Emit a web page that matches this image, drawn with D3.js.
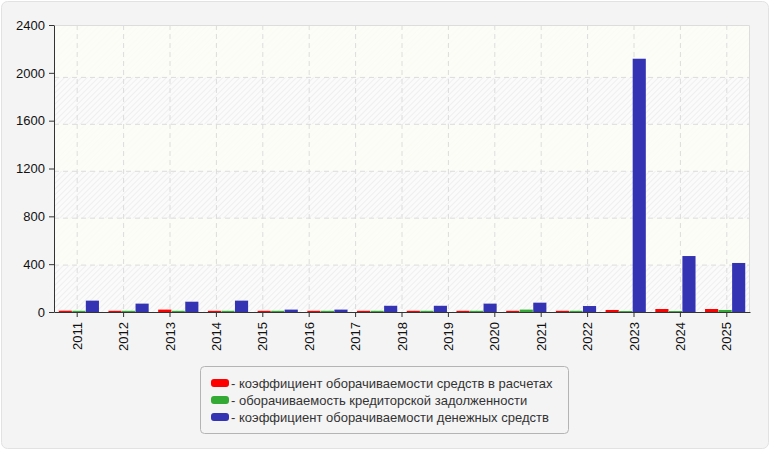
<!DOCTYPE html>
<html>
<head>
<meta charset="utf-8">
<script src="https://cdn.jsdelivr.net/npm/d3@7"></script>
<style>
  body { margin: 0; background: #fff; }
  text { font-family: "Liberation Sans", Arial, sans-serif; }
</style>
</head>
<body>
<script>
const w = 770, h = 450;

// tick labels on the x axis
const years = ['2011','2012','2013','2014','2015','2016','2017','2018','2019','2020','2021','2022','2023','2024','2025'];

// series values (14 bar groups as drawn)
const receivables = [11, 10, 20, 10, 10, 10, 10, 10, 10, 10, 10, 17, 25, 25];
const payables    = [10, 10, 10, 10, 10, 10, 10, 10, 10, 20, 10,  8,  8, 17];
const cash        = [95, 70, 86, 95, 20, 20, 52, 52, 70, 78, 50, 2118, 468, 410];

const seriesNames = [
  '- коэффициент оборачиваемости средств в расчетах',
  '- оборачиваемость кредиторской задолженности',
  '- коэффициент оборачиваемости денежных средств'
];
const colors = ['#ff0000', '#33aa33', '#3333b3'];
const yTicks = [0, 400, 800, 1200, 1600, 2000, 2400];

const mLeft = 54, mRight = 750, mTop = 25, mBottom = 312;
const fontFam = '"Liberation Sans", Arial, sans-serif';

const svg = d3.select('body').append('svg')
  .attr('width', w).attr('height', h);

// outer frame
svg.append('rect')
  .attr('x', 1.5).attr('y', 1.5)
  .attr('width', w - 3).attr('height', h - 3)
  .attr('rx', 6)
  .attr('fill', '#f4f4f4')
  .attr('stroke', '#e2e2e2');

// hatch pattern
const defs = svg.append('defs');
const pat = defs.append('pattern')
  .attr('id', 'hatch')
  .attr('patternUnits', 'userSpaceOnUse')
  .attr('width', 4).attr('height', 4)
  .attr('patternTransform', 'rotate(45)');
pat.append('rect').attr('width', 4).attr('height', 4).attr('fill', '#fbfbfb');
pat.append('line')
  .attr('x1', 0).attr('y1', 0).attr('x2', 0).attr('y2', 4)
  .attr('stroke', '#ececec').attr('stroke-width', 1.5);

const x = d3.scaleBand().domain(years).range([mLeft, mRight]);
const y = d3.scaleLinear().domain([0, 2400]).range([mBottom, mTop]);
// grid lines in the picture sit on a slightly shorter range
const yGrid = d3.scaleLinear().domain([0, 2400]).range([mBottom, 30.5]);

const groups = d3.range(cash.length);
const x0 = d3.scaleBand().domain(groups).range([mLeft, mRight])
  .paddingInner(0.175).paddingOuter(0.0875);
const x1 = d3.scaleBand().domain([0, 1, 2]).range([0, x0.bandwidth()]).padding(0.03);

// plot background
svg.append('rect')
  .attr('x', mLeft).attr('y', mTop)
  .attr('width', mRight - mLeft).attr('height', mBottom - mTop)
  .attr('fill', 'url(#hatch)');

// alternate cream bands
const bands = [[2000, 2400], [1200, 1600], [400, 800]];
const bandTop = d => d[1] === 2400 ? mTop : yGrid(d[1]);
svg.append('g').selectAll('rect')
  .data(bands)
  .enter()
  .append('rect')
  .attr('x', mLeft)
  .attr('y', d => bandTop(d))
  .attr('width', mRight - mLeft)
  .attr('height', d => yGrid(d[0]) - bandTop(d))
  .attr('fill', '#fdfdf6')
  .attr('opacity', 0.85);

// grid
const grid = svg.append('g')
  .attr('stroke', '#dcdcdc')
  .attr('stroke-dasharray', '5,4');
grid.selectAll('.hg')
  .data([400, 800, 1200, 1600, 2000])
  .enter()
  .append('line')
  .attr('class', 'hg')
  .attr('x1', mLeft).attr('x2', mRight)
  .attr('y1', d => yGrid(d)).attr('y2', d => yGrid(d));
grid.selectAll('.vg')
  .data(years)
  .enter()
  .append('line')
  .attr('class', 'vg')
  .attr('x1', d => x(d) + x.bandwidth() / 2)
  .attr('x2', d => x(d) + x.bandwidth() / 2)
  .attr('y1', mTop).attr('y2', mBottom);

// top / right border
svg.append('path')
  .attr('d', `M${mLeft},${mTop + 0.5}H${mRight - 0.5}V${mBottom}`)
  .attr('fill', 'none')
  .attr('stroke', '#dddddd');

// bars
const series = [receivables, payables, cash];
const barG = svg.append('g');
series.forEach((vals, s) => {
  barG.selectAll('.s' + s)
    .data(vals)
    .enter()
    .append('rect')
    .attr('class', 's' + s)
    .attr('x', (d, i) => x0(i) + x1(s))
    .attr('y', d => y(d))
    .attr('width', x1.bandwidth())
    .attr('height', d => mBottom - y(d))
    .attr('fill', colors[s]);
});

// axes
const yAxis = svg.append('g')
  .attr('transform', `translate(${mLeft},0)`)
  .call(d3.axisLeft(y).tickValues(yTicks).tickFormat(d3.format('d'))
    .tickSize(5).tickPadding(4).tickSizeOuter(0));
yAxis.selectAll('text').attr('font-size', '13px').attr('fill', '#111')
  .attr('font-family', fontFam);
yAxis.select('.domain').attr('stroke', '#333');
yAxis.selectAll('.tick line').attr('stroke', '#333');

const xAxis = svg.append('g')
  .attr('transform', `translate(0,${mBottom})`)
  .call(d3.axisBottom(x).tickSize(5).tickSizeOuter(0));
xAxis.selectAll('text')
  .attr('font-size', '13px')
  .attr('fill', '#111')
  .attr('font-family', fontFam)
  .attr('transform', 'rotate(-90)')
  .attr('x', -10)
  .attr('y', 0)
  .attr('dy', '0.35em')
  .attr('text-anchor', 'end');
xAxis.select('.domain').attr('stroke', '#333');
xAxis.selectAll('.tick line').attr('stroke', '#333');

// legend
const lg = svg.append('g');
lg.append('rect')
  .attr('x', 200.5).attr('y', 366.5)
  .attr('width', 368).attr('height', 67)
  .attr('rx', 4)
  .attr('fill', '#f4f4f4')
  .attr('stroke', '#b4b4b4');
const items = lg.selectAll('.item')
  .data(seriesNames)
  .enter()
  .append('g')
  .attr('class', 'item')
  .attr('transform', (d, i) => `translate(211,${383 + i * 17})`);
items.append('rect')
  .attr('x', 0).attr('y', -4)
  .attr('width', 18).attr('height', 8)
  .attr('rx', 3)
  .attr('fill', (d, i) => colors[i]);
items.append('text')
  .attr('x', 20)
  .attr('dy', '0.35em')
  .attr('font-size', '13px')
  .attr('font-family', fontFam)
  .attr('fill', '#333')
  .text(d => d);
</script>
</body>
</html>
